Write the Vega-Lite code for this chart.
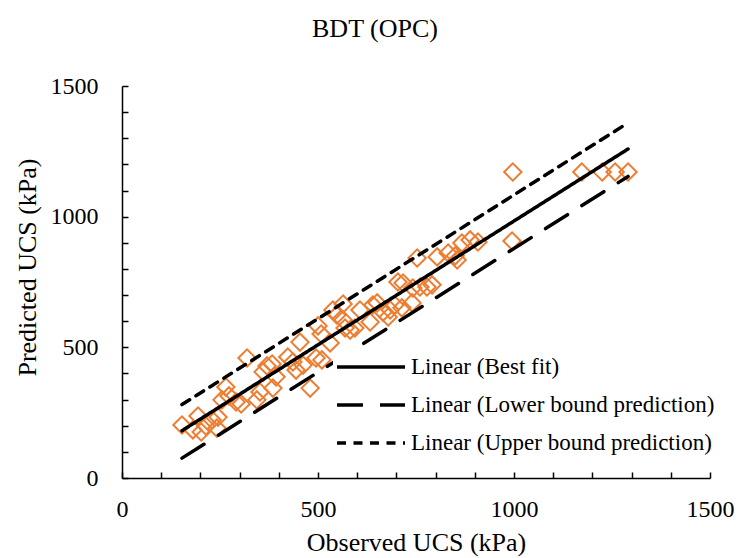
{
  "$schema": "https://vega.github.io/schema/vega-lite/v6.json",
  "width": 588,
  "height": 392,
  "autosize": {"type": "none"},
  "padding": {"left": 122, "top": 86, "right": 40, "bottom": 80},
  "background": "white",
  "title": {
    "text": "BDT (OPC)",
    "font": "Liberation Serif",
    "fontSize": 26,
    "fontWeight": "normal",
    "color": "black",
    "anchor": "middle",
    "frame": "group",
    "dx": -41,
    "baseline": "alphabetic",
    "offset": 11
  },
  "config": {
    "view": {"stroke": null},
    "font": "Liberation Serif"
  },
  "resolve": {"axis": {"x": "independent", "y": "independent"}},
  "datasets": {
    "points": [
      {"obs": 153, "pred": 203}, {"obs": 181, "pred": 184}, {"obs": 194, "pred": 237},
      {"obs": 202, "pred": 176}, {"obs": 214, "pred": 199}, {"obs": 230, "pred": 222},
      {"obs": 245, "pred": 233}, {"obs": 242, "pred": 191}, {"obs": 255, "pred": 299},
      {"obs": 265, "pred": 348}, {"obs": 273, "pred": 314}, {"obs": 291, "pred": 291},
      {"obs": 304, "pred": 283}, {"obs": 319, "pred": 459}, {"obs": 344, "pred": 299},
      {"obs": 352, "pred": 329}, {"obs": 360, "pred": 406}, {"obs": 370, "pred": 429},
      {"obs": 383, "pred": 436}, {"obs": 393, "pred": 387}, {"obs": 385, "pred": 344},
      {"obs": 423, "pred": 463}, {"obs": 436, "pred": 444}, {"obs": 444, "pred": 413},
      {"obs": 454, "pred": 520}, {"obs": 462, "pred": 432}, {"obs": 480, "pred": 344},
      {"obs": 495, "pred": 459}, {"obs": 510, "pred": 452}, {"obs": 500, "pred": 582},
      {"obs": 508, "pred": 551}, {"obs": 531, "pred": 517}, {"obs": 538, "pred": 643},
      {"obs": 548, "pred": 624}, {"obs": 564, "pred": 605}, {"obs": 569, "pred": 574},
      {"obs": 582, "pred": 566}, {"obs": 594, "pred": 574}, {"obs": 564, "pred": 666},
      {"obs": 607, "pred": 643}, {"obs": 633, "pred": 597}, {"obs": 640, "pred": 662},
      {"obs": 651, "pred": 670}, {"obs": 666, "pred": 635}, {"obs": 679, "pred": 616},
      {"obs": 684, "pred": 643}, {"obs": 696, "pred": 662}, {"obs": 714, "pred": 651},
      {"obs": 717, "pred": 746}, {"obs": 740, "pred": 670}, {"obs": 742, "pred": 727},
      {"obs": 760, "pred": 731}, {"obs": 778, "pred": 731}, {"obs": 791, "pred": 739},
      {"obs": 704, "pred": 750}, {"obs": 753, "pred": 842}, {"obs": 804, "pred": 846},
      {"obs": 832, "pred": 861}, {"obs": 855, "pred": 834}, {"obs": 867, "pred": 899},
      {"obs": 888, "pred": 911}, {"obs": 908, "pred": 903}, {"obs": 850, "pred": 850},
      {"obs": 995, "pred": 907}, {"obs": 997, "pred": 1171}, {"obs": 1173, "pred": 1171},
      {"obs": 1225, "pred": 1171}, {"obs": 1258, "pred": 1171}, {"obs": 1291, "pred": 1171}
    ],
    "lines": [
      {"obs": 153, "pred": 181, "series": "Linear (Best fit)"},
      {"obs": 1291, "pred": 1259, "series": "Linear (Best fit)"},
      {"obs": 153, "pred": 76, "series": "Linear (Lower bound prediction)"},
      {"obs": 1291, "pred": 1154, "series": "Linear (Lower bound prediction)"},
      {"obs": 153, "pred": 281, "series": "Linear (Upper bound prediction)"},
      {"obs": 1291, "pred": 1359, "series": "Linear (Upper bound prediction)"}
    ]
  },
  "layer": [
    {
      "data": {"name": "points"},
      "mark": {"type": "point", "shape": "diamond", "filled": false, "stroke": "#ED7D31", "strokeWidth": 2, "size": 300, "opacity": 1},
      "encoding": {
        "x": {
          "field": "obs", "type": "quantitative",
          "scale": {"domain": [0, 1500], "nice": false, "zero": true},
          "axis": {
            "orient": "bottom",
            "title": "Observed UCS (kPa)",
            "values": [0, 500, 1000, 1500],
            "format": "d",
            "grid": false,
            "domainColor": "black", "domainWidth": 1.5,
            "tickColor": "black", "tickWidth": 1.5, "tickSize": -6,
            "labelFont": "Liberation Serif", "labelFontSize": 24, "labelColor": "black",
            "labelPadding": 25, "labelFlush": false, "labelOverlap": false,
            "titleFont": "Liberation Serif", "titleFontSize": 26, "titleFontWeight": "normal", "titleColor": "black",
            "titlePadding": 8
          }
        },
        "y": {
          "field": "pred", "type": "quantitative",
          "scale": {"domain": [0, 1500], "nice": false, "zero": true},
          "axis": {
            "orient": "left",
            "title": "Predicted UCS (kPa)",
            "values": [0, 500, 1000, 1500],
            "format": "d",
            "grid": false,
            "domainColor": "black", "domainWidth": 1.5,
            "tickColor": "black", "tickWidth": 1.5, "tickSize": -6,
            "labelFont": "Liberation Serif", "labelFontSize": 24, "labelColor": "black",
            "labelPadding": 30, "labelFlush": false, "labelOverlap": false,
            "titleFont": "Liberation Serif", "titleFontSize": 26, "titleFontWeight": "normal", "titleColor": "black",
            "titleX": -87, "titleY": 181, "titleBaseline": "alphabetic", "titleAlign": "center", "titleAngle": -90
          }
        }
      }
    },
    {
      "data": {"name": "lines"},
      "mark": {"type": "line", "stroke": "black", "strokeWidth": 3.5, "strokeCap": "round"},
      "encoding": {
        "x": {
          "field": "obs", "type": "quantitative",
          "axis": {
            "orient": "bottom", "title": null, "labels": false, "domain": false, "grid": false,
            "values": [100, 200, 300, 400, 600, 700, 800, 900, 1100, 1200, 1300, 1400],
            "tickColor": "black", "tickWidth": 1.5, "tickSize": -6
          }
        },
        "y": {
          "field": "pred", "type": "quantitative",
          "axis": {
            "orient": "left", "title": null, "labels": false, "domain": false, "grid": false,
            "values": [100, 200, 300, 400, 600, 700, 800, 900, 1100, 1200, 1300, 1400],
            "tickColor": "black", "tickWidth": 1.5, "tickSize": -6
          }
        },
        "strokeDash": {
          "field": "series", "type": "nominal",
          "scale": {
            "domain": ["Linear (Best fit)", "Linear (Lower bound prediction)", "Linear (Upper bound prediction)"],
            "range": [[1, 0], [26, 17], [9, 7.5]]
          },
          "legend": {
            "orient": "none", "legendX": 211, "legendY": 264,
            "title": null,
            "symbolType": "stroke", "symbolSize": 4624, "symbolStrokeWidth": 3.5, "symbolStrokeColor": "black",
            "labelFont": "Liberation Serif", "labelFontSize": 23, "labelColor": "black",
            "labelOffset": 4, "labelLimit": 500,
            "clipHeight": 30, "rowPadding": 8,
            "fillColor": "white", "padding": 2
          }
        }
      }
    }
  ]
}
